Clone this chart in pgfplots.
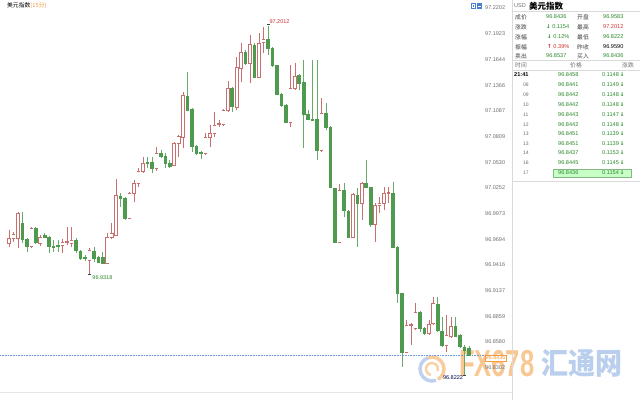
\documentclass[border=0pt]{standalone}
\usepackage{pgfplots}
\pgfplotsset{compat=1.18}
\usepackage{pgfplotstable}
\usepackage{fontspec}
\setmainfont{Liberation Sans}
\newfontfamily\cjk{Noto Sans CJK SC}
\newfontfamily\sym{DejaVu Sans}
\definecolor{upc}{HTML}{C87070}
\definecolor{dnc}{HTML}{4E9A4E}
\definecolor{numgreen}{HTML}{2A8A2A}
\definecolor{numred}{HTML}{D03030}
\definecolor{axgray}{HTML}{707070}
\definecolor{wmorange}{HTML}{F39A3A}
\definecolor{wmblue}{HTML}{4A7FD0}
\definecolor{rule}{HTML}{DADADA}

% 15-minute candles as segments (x = bar index, nan ends a segment)
% rising bars: wick low/high
\pgfplotstableread[row sep=\\]{
x y\\
0 96.9611\\0 96.9796\\0 nan\\ 1 96.9666\\1 96.9774\\1 nan\\ 2 96.9600\\2 96.9991\\2 nan\\
5 96.9600\\5 96.9828\\5 nan\\ 7 96.9622\\7 96.9741\\7 nan\\ 12 96.9546\\12 96.9698\\12 nan\\
13 96.9633\\13 96.9828\\13 nan\\ 14 96.9611\\14 96.9828\\14 nan\\ 18 96.9318\\18 96.9600\\18 nan\\
22 96.9427\\22 96.9763\\22 nan\\ 23 96.9698\\23 96.9871\\23 nan\\ 24 96.9731\\24 97.0348\\24 nan\\
27 96.9915\\27 97.0208\\27 nan\\ 28 97.0099\\28 97.0338\\28 nan\\ 29 97.0262\\29 97.0468\\29 nan\\
30 97.0414\\30 97.0587\\30 nan\\ 33 97.0435\\33 97.0695\\33 nan\\ 37 97.0489\\37 97.0750\\37 nan\\
38 97.0587\\38 97.0825\\38 nan\\ 39 97.0685\\39 97.1291\\39 nan\\ 44 97.0609\\44 97.0847\\44 nan\\
45 97.0695\\45 97.0934\\45 nan\\ 46 97.0804\\46 97.1075\\46 nan\\ 47 97.0912\\47 97.0988\\47 nan\\
48 97.0923\\48 97.1107\\48 nan\\ 49 97.1075\\49 97.1411\\49 nan\\ 51 97.1097\\51 97.1671\\51 nan\\
52 97.1400\\52 97.1823\\52 nan\\ 54 97.1389\\54 97.1909\\54 nan\\ 56 97.1443\\56 97.1931\\56 nan\\
57 97.1714\\57 97.1996\\57 nan\\ 63 97.0912\\63 97.1584\\63 nan\\ 64 97.1313\\64 97.1606\\64 nan\\
70 97.0641\\70 97.1226\\70 nan\\ 74 96.9655\\74 97.0294\\74 nan\\ 77 96.9709\\77 97.0197\\77 nan\\
79 96.9904\\79 97.0316\\79 nan\\ 82 96.9666\\82 97.0088\\82 nan\\ 83 96.9980\\83 97.0153\\83 nan\\
84 97.0012\\84 97.0262\\84 nan\\ 85 97.0088\\85 97.0262\\85 nan\\ 89 96.8462\\89 96.8820\\89 nan\\
90 96.8549\\90 96.8787\\90 nan\\ 91 96.8711\\91 96.9004\\91 nan\\ 94 96.8657\\94 96.8820\\94 nan\\
95 96.8765\\95 96.9069\\95 nan\\ 98 96.8473\\98 96.8874\\98 nan\\ 99 96.8624\\99 96.8852\\99 nan\\
}\upW

% rising bars: open/close
\pgfplotstableread[row sep=\\]{
x y\\
0 96.9655\\0 96.9709\\0 nan\\ 1 96.9709\\1 96.9752\\1 nan\\ 2 96.9709\\2 96.9980\\2 nan\\
5 96.9622\\5 96.9817\\5 nan\\ 7 96.9655\\7 96.9720\\7 nan\\ 12 96.9633\\12 96.9666\\12 nan\\
13 96.9666\\13 96.9676\\13 nan\\ 14 96.9655\\14 96.9687\\14 nan\\ 18 96.9470\\18 96.9579\\18 nan\\
22 96.9438\\22 96.9720\\22 nan\\ 23 96.9720\\23 96.9763\\23 nan\\ 24 96.9741\\24 97.0175\\24 nan\\
27 96.9926\\27 97.0197\\27 nan\\ 28 97.0197\\28 97.0305\\28 nan\\ 29 97.0305\\29 97.0435\\29 nan\\
30 97.0435\\30 97.0522\\30 nan\\ 33 97.0468\\33 97.0630\\33 nan\\ 37 97.0500\\37 97.0739\\37 nan\\
38 97.0739\\38 97.0815\\38 nan\\ 39 97.0804\\39 97.1259\\39 nan\\ 44 97.0630\\44 97.0804\\44 nan\\
45 97.0804\\45 97.0847\\45 nan\\ 46 97.0847\\46 97.0934\\46 nan\\ 47 97.0945\\47 97.0956\\47 nan\\
48 97.0945\\48 97.1097\\48 nan\\ 49 97.1097\\49 97.1335\\49 nan\\ 51 97.1129\\51 97.1562\\51 nan\\
52 97.1552\\52 97.1725\\52 nan\\ 54 97.1606\\54 97.1812\\54 nan\\ 56 97.1454\\56 97.1823\\56 nan\\
57 97.1833\\57 97.1866\\57 nan\\ 63 97.0966\\63 97.1335\\63 nan\\ 64 97.1335\\64 97.1465\\64 nan\\
70 97.0663\\70 97.1064\\70 nan\\ 74 96.9666\\74 97.0229\\74 nan\\ 77 96.9720\\77 97.0186\\77 nan\\
79 97.0088\\79 97.0305\\79 nan\\ 82 96.9861\\82 97.0067\\82 nan\\ 83 97.0067\\83 97.0088\\83 nan\\
84 97.0088\\84 97.0197\\84 nan\\ 85 97.0197\\85 97.0208\\85 nan\\ 89 96.8473\\89 96.8765\\89 nan\\
90 96.8765\\90 96.8776\\90 nan\\ 91 96.8733\\91 96.8906\\91 nan\\ 94 96.8679\\94 96.8776\\94 nan\\
95 96.8787\\95 96.9004\\95 nan\\ 98 96.8549\\98 96.8657\\98 nan\\ 99 96.8646\\99 96.8755\\99 nan\\
}\upB

% falling bars: wick low/high
\pgfplotstableread[row sep=\\]{
x y\\
3 96.9655\\3 96.9991\\3 nan\\ 4 96.9557\\4 96.9709\\4 nan\\ 6 96.9644\\6 96.9828\\6 nan\\
8 96.9709\\8 96.9763\\8 nan\\ 9 96.9546\\9 96.9731\\9 nan\\ 10 96.9557\\10 96.9687\\10 nan\\
11 96.9557\\11 96.9687\\11 nan\\ 15 96.9546\\15 96.9709\\15 nan\\ 16 96.9470\\16 96.9579\\16 nan\\
17 96.9459\\17 96.9525\\17 nan\\ 19 96.9449\\19 96.9611\\19 nan\\ 20 96.9438\\20 96.9514\\20 nan\\
21 96.9427\\21 96.9557\\21 nan\\ 25 97.0045\\25 97.0197\\25 nan\\ 26 96.9904\\26 97.0153\\26 nan\\
31 97.0468\\31 97.0587\\31 nan\\ 32 97.0414\\32 97.0587\\32 nan\\ 34 97.0576\\34 97.0663\\34 nan\\
35 97.0468\\35 97.0630\\35 nan\\ 36 97.0468\\36 97.0554\\36 nan\\ 40 97.1086\\40 97.1508\\40 nan\\
41 97.0641\\41 97.1118\\41 nan\\ 42 97.0609\\42 97.0717\\42 nan\\ 43 97.0565\\43 97.0652\\43 nan\\
50 97.1075\\50 97.1346\\50 nan\\ 53 97.1584\\53 97.1747\\53 nan\\ 55 97.1443\\55 97.1823\\55 nan\\
58 97.1692\\58 97.2012\\58 nan\\ 59 97.1562\\59 97.1779\\59 nan\\ 60 97.1259\\60 97.1584\\60 nan\\
61 97.1129\\61 97.1281\\61 nan\\ 62 97.0956\\62 97.1162\\62 nan\\ 65 97.1313\\65 97.1486\\65 nan\\
66 97.0685\\66 97.1638\\66 nan\\ 67 97.0988\\67 97.1097\\67 nan\\ 68 97.0977\\68 97.1638\\68 nan\\
69 97.0554\\69 97.1638\\69 nan\\ 71 97.0880\\71 97.1172\\71 nan\\ 72 97.0251\\72 97.0923\\72 nan\\
73 96.9655\\73 97.0251\\73 nan\\ 75 96.9937\\75 97.0305\\75 nan\\ 76 96.9709\\76 97.0012\\76 nan\\
78 96.9611\\78 97.0251\\78 nan\\ 80 97.0251\\80 97.0554\\80 nan\\ 81 96.9828\\81 97.0262\\81 nan\\
86 96.9600\\86 97.0316\\86 nan\\ 87 96.9004\\87 96.9622\\87 nan\\ 88 96.8310\\88 96.9113\\88 nan\\
92 96.8689\\92 96.8917\\92 nan\\ 93 96.8657\\93 96.8744\\93 nan\\ 96 96.8689\\96 96.9069\\96 nan\\
97 96.8527\\97 96.8852\\97 nan\\ 100 96.8635\\100 96.8852\\100 nan\\ 101 96.8516\\101 96.8668\\101 nan\\
102 96.8222\\102 96.8549\\102 nan\\ 103 96.8429\\103 96.8538\\103 nan\\
}\dnW

% falling bars: open/close
\pgfplotstableread[row sep=\\]{
x y\\
3 96.9871\\3 96.9698\\3 nan\\ 4 96.9698\\4 96.9622\\4 nan\\ 6 96.9817\\6 96.9666\\6 nan\\
8 96.9741\\8 96.9720\\8 nan\\ 9 96.9720\\9 96.9622\\9 nan\\ 10 96.9622\\10 96.9611\\10 nan\\
11 96.9633\\11 96.9622\\11 nan\\ 15 96.9687\\15 96.9579\\15 nan\\ 16 96.9568\\16 96.9492\\16 nan\\
17 96.9503\\17 96.9492\\17 nan\\ 19 96.9568\\19 96.9492\\19 nan\\ 20 96.9503\\20 96.9449\\20 nan\\
21 96.9503\\21 96.9438\\21 nan\\ 25 97.0164\\25 97.0142\\25 nan\\ 26 97.0142\\26 96.9926\\26 nan\\
31 97.0533\\31 97.0522\\31 nan\\ 32 97.0533\\32 97.0468\\32 nan\\ 34 97.0630\\34 97.0598\\34 nan\\
35 97.0598\\35 97.0522\\35 nan\\ 36 97.0522\\36 97.0489\\36 nan\\ 40 97.1248\\40 97.1097\\40 nan\\
41 97.1107\\41 97.0706\\41 nan\\ 42 97.0706\\42 97.0630\\42 nan\\ 43 97.0641\\43 97.0630\\43 nan\\
50 97.1335\\50 97.1140\\50 nan\\ 53 97.1725\\53 97.1606\\53 nan\\ 55 97.1801\\55 97.1454\\55 nan\\
58 97.1866\\58 97.1768\\58 nan\\ 59 97.1768\\59 97.1584\\59 nan\\ 60 97.1584\\60 97.1270\\60 nan\\
61 97.1270\\61 97.1151\\61 nan\\ 62 97.1151\\62 97.0966\\62 nan\\ 65 97.1476\\65 97.1389\\65 nan\\
66 97.1400\\66 97.1053\\66 nan\\ 67 97.1053\\67 97.0999\\67 nan\\ 68 97.0999\\68 97.0988\\68 nan\\
69 97.0999\\69 97.0663\\69 nan\\ 71 97.1064\\71 97.0912\\71 nan\\ 72 97.0912\\72 97.0262\\72 nan\\
73 97.0251\\73 96.9666\\73 nan\\ 75 97.0229\\75 97.0012\\75 nan\\ 76 97.0002\\76 96.9720\\76 nan\\
78 97.0175\\78 97.0088\\78 nan\\ 80 97.0305\\80 97.0262\\80 nan\\ 81 97.0262\\81 96.9861\\81 nan\\
86 97.0197\\86 96.9611\\86 nan\\ 87 96.9611\\87 96.9113\\87 nan\\ 88 96.9113\\88 96.8473\\88 nan\\
92 96.8906\\92 96.8733\\92 nan\\ 93 96.8733\\93 96.8679\\93 nan\\ 96 96.8993\\96 96.8711\\96 nan\\
97 96.8700\\97 96.8549\\97 nan\\ 100 96.8755\\100 96.8646\\100 nan\\ 101 96.8657\\101 96.8538\\101 nan\\
102 96.8527\\102 96.8494\\102 nan\\ 103 96.8516\\103 96.8436\\103 nan\\
}\dnB

\newcommand\tf{\fontsize{5.6}{6.5}\selectfont}
\newcommand\cf{\cjk\fontsize{5.8}{6.5}\selectfont}

\begin{document}
\begin{tikzpicture}[x=1pt,y=1pt]
\useasboundingbox (0,0) rectangle (640,400);
\fill[white] (0,0) rectangle (640,400);

% watermark behind the chart
\begin{scope}[shift={(0,400)}, y=-1pt]
  \draw[wmblue!70, opacity=0.5, line width=3.5pt] (432,369) ++(70:12) arc (70:250:12);
  \draw[wmorange, opacity=0.5, line width=3.5pt] (432,369) ++(250:12) arc (250:420:12);
  \draw[wmorange, opacity=0.45, line width=2.5pt] (432,369) ++(100:6) arc (100:380:6);
  \node[text=wmorange, opacity=0.55, inner sep=0, anchor=west, xscale=0.68,
        font=\fontsize{37.5}{38}\selectfont\bfseries] at (459,363.5) {FX678};
  \node[text=wmblue!75, opacity=0.5, inner sep=0, anchor=west, xscale=0.9,
        font=\cjk\fontsize{30}{30}\selectfont\bfseries] at (541,363.5) {汇通网};
\end{scope}

\begin{axis}[
  at={(0,0)}, anchor=south west,
  scale only axis, width=476pt, height=400pt,
  xmin=-2.015, xmax=104.57, ymin=96.7952, ymax=97.2289,
  axis line style={draw=none},
  xtick=\empty,
  ytick={97.2202,97.1923,97.1644,97.1366,97.1087,97.0809,97.0530,97.0252,
         96.9973,96.9694,96.9416,96.9137,96.8859,96.8580,96.8302},
  yticklabels={97.2202,97.1923,97.1644,97.1366,97.1087,97.0809,97.0530,97.0252,
         96.9973,96.9694,96.9416,96.9137,96.8859,96.8580,96.8302},
  yticklabel pos=right,
  major tick length=0pt,
  yticklabel style={anchor=west, inner sep=0pt, xshift=9pt,
                    font=\fontsize{5.5}{6}\selectfont, text=axgray},
  unbounded coords=jump,
  clip=false,
]
% last price line
\addplot[forget plot, color=wmblue!80, densely dotted, line width=0.6pt]
  coordinates {(-2.015,96.8436) (106.4,96.8436)};

% wicks
\addplot[forget plot, mark=none, draw=upc, line width=0.6pt] table[x=x, y=y] {\upW};
\addplot[forget plot, mark=none, draw=dnc!85, line width=0.6pt] table[x=x, y=y] {\dnW};

% rising bodies, hollow
\addplot[forget plot, mark=none, draw=upc, line width=0.55pt,
  double=white, double distance=2.5pt] table[x=x, y=y] {\upB};
\addplot[forget plot, only marks, mark=-, mark size=1.8pt,
  mark options={draw=upc, line width=0.55pt}] table[x=x, y=y] {\upB};

% falling bodies, filled
\addplot[forget plot, mark=none, draw=dnc, line width=3.6pt] table[x=x, y=y] {\dnB};
\addplot[forget plot, only marks, mark=-, mark size=1.8pt,
  mark options={draw=dnc, line width=0.6pt}] table[x=x, y=y] {\dnB};

% extreme value tags
\draw[black!75, line width=0.7pt] (axis cs:58,97.2012) ++(-1.5pt,1pt) -- ++(3pt,0pt);
\node[text=numred, font=\fontsize{5.5}{6}\selectfont, inner sep=0, xshift=11.5pt, yshift=4pt]
  at (axis cs:58,97.2012) {97.2012};
\draw[black!75, line width=0.7pt] (axis cs:18,96.9318) ++(-1.5pt,0pt) -- ++(3pt,0pt);
\node[text=numgreen, font=\fontsize{5.5}{6}\selectfont, inner sep=0, xshift=13pt, yshift=-3.5pt]
  at (axis cs:18,96.9318) {96.9318};
\draw[black!75, line width=0.7pt] (axis cs:102,96.8222) ++(-1.5pt,0pt) -- ++(3pt,0pt);
\node[text=black!70!blue, font=\fontsize{5.5}{6}\selectfont, inner sep=0, xshift=-11.5pt, yshift=-3pt]
  at (axis cs:102,96.8222) {96.8222};

% current price tag on the scale
\node[draw=wmorange, fill=white, text=wmorange, inner sep=0.9pt,
      font=\fontsize{5.5}{6}\selectfont, anchor=west, xshift=8.5pt, yshift=-2.5pt]
  at (axis cs:104.57,96.8436) {96.8436};
\end{axis}

% title and quote panel, in top-down coordinates
\begin{scope}[shift={(0,400)}, y=-1pt, every node/.style={inner sep=0, anchor=west}]
  \node at (7,5.5) {\cf 美元指数\textcolor{wmorange}{(15分)}};
  \fill[wmblue] (471,3) rectangle (476,9);
  \fill[wmblue] (477,3) rectangle (482,9);
  \draw[white, line width=0.4pt] (472.5,4.5) rectangle (474.5,7.5);
  \draw[white, line width=0.4pt] (478,6) -- (481,6);

  \draw[rule] (512,0) -- (512,400);
  \draw[rule!70] (0,392.5) -- (512,392.5);
  \draw[rule] (512,11.5) -- (640,11.5);
  \draw[rule] (512,60.5) -- (640,60.5);
  \draw[rule] (512,70) -- (640,70);
  \draw[rule] (512,181) -- (640,181);

  \node at (514,6) {\color{axgray}\tf USD};
  \node at (529,6) {\cjk\bfseries\fontsize{8.5}{9}\selectfont 美元指数};

  \foreach \lab/\yy in {成价/17,涨跌/27,涨幅/37,振幅/47,卖出/56}
    \node at (515,\yy) {\color{black!75}\cf \lab};
  \foreach \lab/\yy in {开盘/17,最高/27,最低/37,昨收/47,买入/56}
    \node at (577,\yy) {\color{black!75}\cf \lab};

  \node at (546,17) {\color{numgreen}\tf 96.8436};
  \node at (546,27) {\color{numgreen}{\sym\bfseries\fontsize{5.5}{6}\selectfont ↓}\,\tf 0.1154};
  \node at (547,37) {\color{numgreen}{\sym\bfseries\fontsize{5.5}{6}\selectfont ↓}\,\tf 0.12\%};
  \node at (547,47) {\color{numred}{\sym\bfseries\fontsize{5.5}{6}\selectfont ↑}\,\tf 0.39\%};
  \node at (546,56) {\color{numgreen}\tf 96.8537};

  \node at (603,17) {\color{numgreen}\tf 96.9583};
  \node at (603,27) {\color{numred}\tf 97.2012};
  \node at (603,37) {\color{numgreen}\tf 96.8222};
  \node at (603,47) {\color{black}\tf 96.9590};
  \node at (603,56) {\color{numgreen}\tf 96.8436};

  \node at (515,65.5) {\color{axgray}\cf 时间};
  \node at (570,65.5) {\color{axgray}\cf 价格};
  \node at (622,65.5) {\color{axgray}\cf 涨跌};

  \fill[green!22, draw=dnc!70] (553,169) rectangle (631,177.5);

  \node at (514,75) {\tf\bfseries 21:41};
  \foreach \t/\yy in {08/85, 09/95, 10/105, 11/115, 12/124.5,
      13/134, 13/143.5, 14/153, 16/163, 17/173}
    \node at (523,\yy) {\color{axgray}\fontsize{5}{6}\selectfont \t};
  \foreach \p/\d/\yy in {96.8458/0.1148/75, 96.8441/0.1149/85, 96.8442/0.1148/95,
      96.8442/0.1148/105, 96.8443/0.1147/115, 96.8442/0.1148/124.5,
      96.8451/0.1139/134, 96.8451/0.1139/143.5, 96.8437/0.1153/153,
      96.8445/0.1145/163, 96.8436/0.1154/173}
    {
    \node at (558,\yy) {\color{numgreen}\tf \p};
    \node at (602,\yy) {\color{numgreen}\tf \d\,{\sym\bfseries\fontsize{5.5}{6}\selectfont ↓}};
    }
\end{scope}
\end{tikzpicture}
\end{document}
